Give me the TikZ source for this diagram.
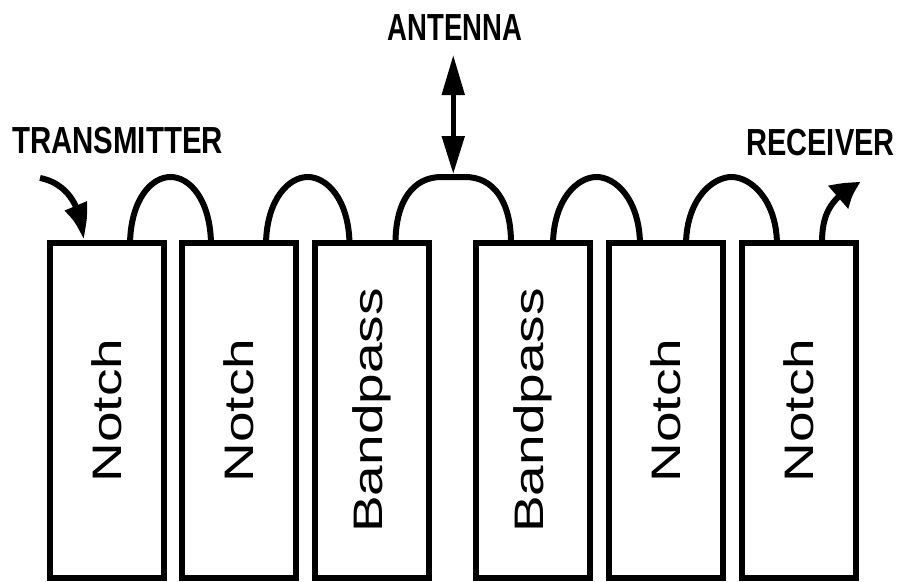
\documentclass[tikz,border=0pt]{standalone}
\usepackage{fontspec}
\usepackage{graphicx}
\setmainfont{Liberation Sans}
\usetikzlibrary{arrows.meta,calc,bending}
% vertical, slightly narrowed label inside a filter box
\newcommand{\uplabel}[1]{\scalebox{0.75}[1]{\rotatebox{90}{#1}}}
% condensed caption text
\newcommand{\narrowtext}[2]{\scalebox{#1}[1]{#2}}

\begin{document}
\begin{tikzpicture}[x=1pt,y=-1pt,
  filterbox/.style={draw, line width=6pt, rectangle, outer sep=0pt,
    minimum width=114pt, minimum height=335pt, inner sep=0pt,
    font=\fontsize{55pt}{60pt}\selectfont},
  link/.style={line width=6pt},
  caption/.style={inner sep=0pt, anchor=base,
    font=\bfseries\fontsize{37.7pt}{40pt}\selectfont},
  feed/.style={line width=6pt},
]
\fill[white] (0,0) rectangle (899,581);
\useasboundingbox (0,0) rectangle (899,581);

% filter cavities
\node[filterbox] (n1)  at (107,410.5)   {\uplabel{Notch}};
\node[filterbox] (n2)  at (239,410.5)   {\uplabel{Notch}};
\node[filterbox] (bp1) at (371.5,410.5) {\uplabel{Bandpass}};
\node[filterbox] (bp2) at (533,410.5)   {\uplabel{Bandpass}};
\node[filterbox] (n3)  at (666,410.5)   {\uplabel{Notch}};
\node[filterbox] (n4)  at (799,410.5)   {\uplabel{Notch}};

% captions
\node[caption] (tx)  at (117.5,153) {\narrowtext{0.78}{TRANSMITTER}};
\node[caption] (ant) at (455,40)    {\narrowtext{0.73}{ANTENNA}};
\node[caption] (rx)  at (820.5,155) {\narrowtext{0.77}{RECEIVER}};

% coupling loops between neighbouring cavities (domed loops)
\coordinate (c1a) at ($(n1.north east)+(-34,0)$);
\coordinate (c1b) at ($(n2.north west)+(29,0)$);
\coordinate (c2a) at ($(n2.north east)+(-30,0)$);
\coordinate (c2b) at ($(bp1.north west)+(35,0)$);
\coordinate (c4a) at ($(bp2.north east)+(-37,0)$);
\coordinate (c4b) at ($(n3.north west)+(31,0)$);
\coordinate (c5a) at ($(n3.north east)+(-37,0)$);
\coordinate (c5b) at ($(n4.north west)+(35,0)$);
\foreach \a/\b in {c1a/c1b,c2a/c2b,c4a/c4b,c5a/c5b}
  \draw[link] (\a) .. controls ($(\a)+(1,-44)$) and ($(\a)!0.5!(\b)+(-19,-66)$)
    .. ($(\a)!0.5!(\b)+(0,-66)$)
    .. controls ($(\a)!0.5!(\b)+(19,-66)$) and ($(\b)+(-1,-44)$) .. (\b);

% antenna junction between the two bandpass cavities
\coordinate (dl) at ($(bp1.north east)+(-33,0)$);
\coordinate (dr) at ($(bp2.north west)+(35,0)$);
\coordinate (dtop) at ($(dl)!0.5!(dr)+(0,-66)$);
\draw[link] (dl) .. controls ($(dl)+(0,-42)$) and ($(dtop)+(-40,0)$) .. ($(dtop)+(-12,0)$)
  -- ($(dtop)+(12,0)$)
  .. controls ($(dtop)+(40,0)$) and ($(dr)+(0,-42)$) .. (dr);
\draw[line width=5pt, {Triangle[length=38pt,width=22pt]}-{Triangle[length=40pt,width=22pt]}]
  ($(dtop)+(0,-3)$) -- ($(dtop |- ant.base)+(0,15)$);

% transmitter input
\coordinate (txs) at (40,178);
\draw[feed, -{Triangle[length=38pt,width=22pt,bend]}]
  (txs) .. controls (66,183) and (82,205) .. ($(n1.north west)+(33,-3)$);

% receiver output
\coordinate (rxa) at ($(n4.north west)+(80,0)$);
\coordinate (rxe) at (861,182);
\draw[feed, -{Triangle[length=30pt,width=28pt,bend]}]
  (rxa) .. controls ($(rxa)+(0,-30)$) and ($(rxe)+(-30,15)$) .. (rxe);
\end{tikzpicture}
\end{document}
